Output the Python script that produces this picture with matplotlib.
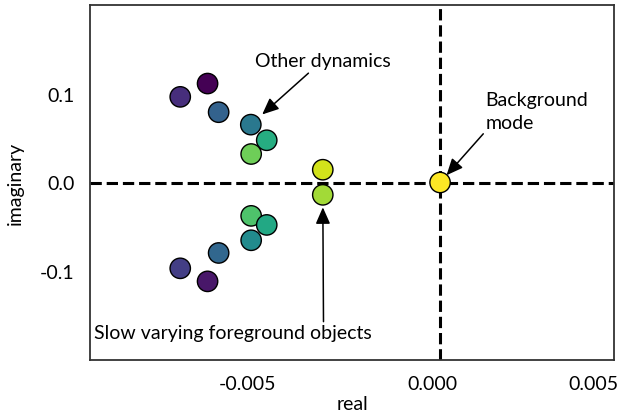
import numpy as np
import matplotlib
matplotlib.use('Agg')
import matplotlib.pyplot as plt
from matplotlib.ticker import FormatStrFormatter

plt.rcParams['font.family'] = ['Lato', 'DejaVu Sans']

# DMD eigenvalues: real part, imaginary part and the colour value of each mode
real = [-0.00614, -0.00693, -0.00582, -0.00489, -0.00443, -0.00488, -0.00281, -0.00281,
        -0.00488, -0.00443, -0.00488, -0.00582, -0.00693, -0.00614, 0.00058]
imag = [0.1115, 0.0965, 0.0792, 0.0652, 0.0476, 0.0321, 0.0144, -0.0139,
        -0.0376, -0.0478, -0.0651, -0.0794, -0.0967, -0.1114, 0.0]
shade = [0.0, 0.13, 0.31, 0.40, 0.62, 0.78, 0.93, 0.86,
         0.72, 0.60, 0.48, 0.33, 0.18, 0.06, 1.0]

xticks = [-0.005, 0.00035, 0.005]
yticks = [-0.1, 0.0, 0.1]

fig = plt.figure(figsize=(6.19, 4.14), dpi=100)
ax = fig.add_axes([90 / 619, 53 / 414, 524 / 619, 355 / 414])

# axes through the background mode
ax.axhline(0, color='black', lw=2.2, ls='--', zorder=1)
ax.axvline(real[-1], color='black', lw=2.2, ls='--', zorder=1)

ax.scatter(real, imag, c=shade, cmap='viridis', vmin=0, vmax=1, s=215,
           edgecolors='black', linewidths=1, zorder=3)

arrow = dict(arrowstyle='-|>,head_length=0.5,head_width=0.22', color='black',
             lw=1.1, mutation_scale=20)

ax.annotate('Other dynamics', xy=(real[3], imag[3]), xytext=(-0.0028, 0.138),
            ha='center', va='center', fontsize=14,
            arrowprops=dict(arrow, shrinkA=2, shrinkB=11))
ax.annotate('Background\nmode', xy=(real[-1], imag[-1]), xytext=(0.00190, 0.058),
            ha='left', va='bottom', fontsize=14, linespacing=1.45,
            arrowprops=dict(arrow, relpos=(0, 0), shrinkA=0, shrinkB=7))
ax.annotate('Slow varying foreground objects', xy=(real[7], imag[7]),
            xytext=(-0.00942, -0.1695), ha='left', va='center', fontsize=14,
            arrowprops=dict(arrow, relpos=(0.826, 1), shrinkA=0, shrinkB=9))

ax.set_xlim(-0.009538, 0.005607)
ax.set_ylim(-0.2, 0.2)
ax.set_xticks(xticks)
ax.set_yticks(yticks)
ax.xaxis.set_major_formatter(FormatStrFormatter('%.3f'))
ax.yaxis.set_major_formatter(FormatStrFormatter('%.1f'))
ax.tick_params(length=0, labelsize=14, pad=11)
ax.set_xlabel('real', fontsize=14, labelpad=2)
ax.set_ylabel('imaginary', fontsize=14, labelpad=12)
for sp in ax.spines.values():
    sp.set_color('#333333')
    sp.set_linewidth(1.3)

fig.savefig('out.png', dpi=100)
